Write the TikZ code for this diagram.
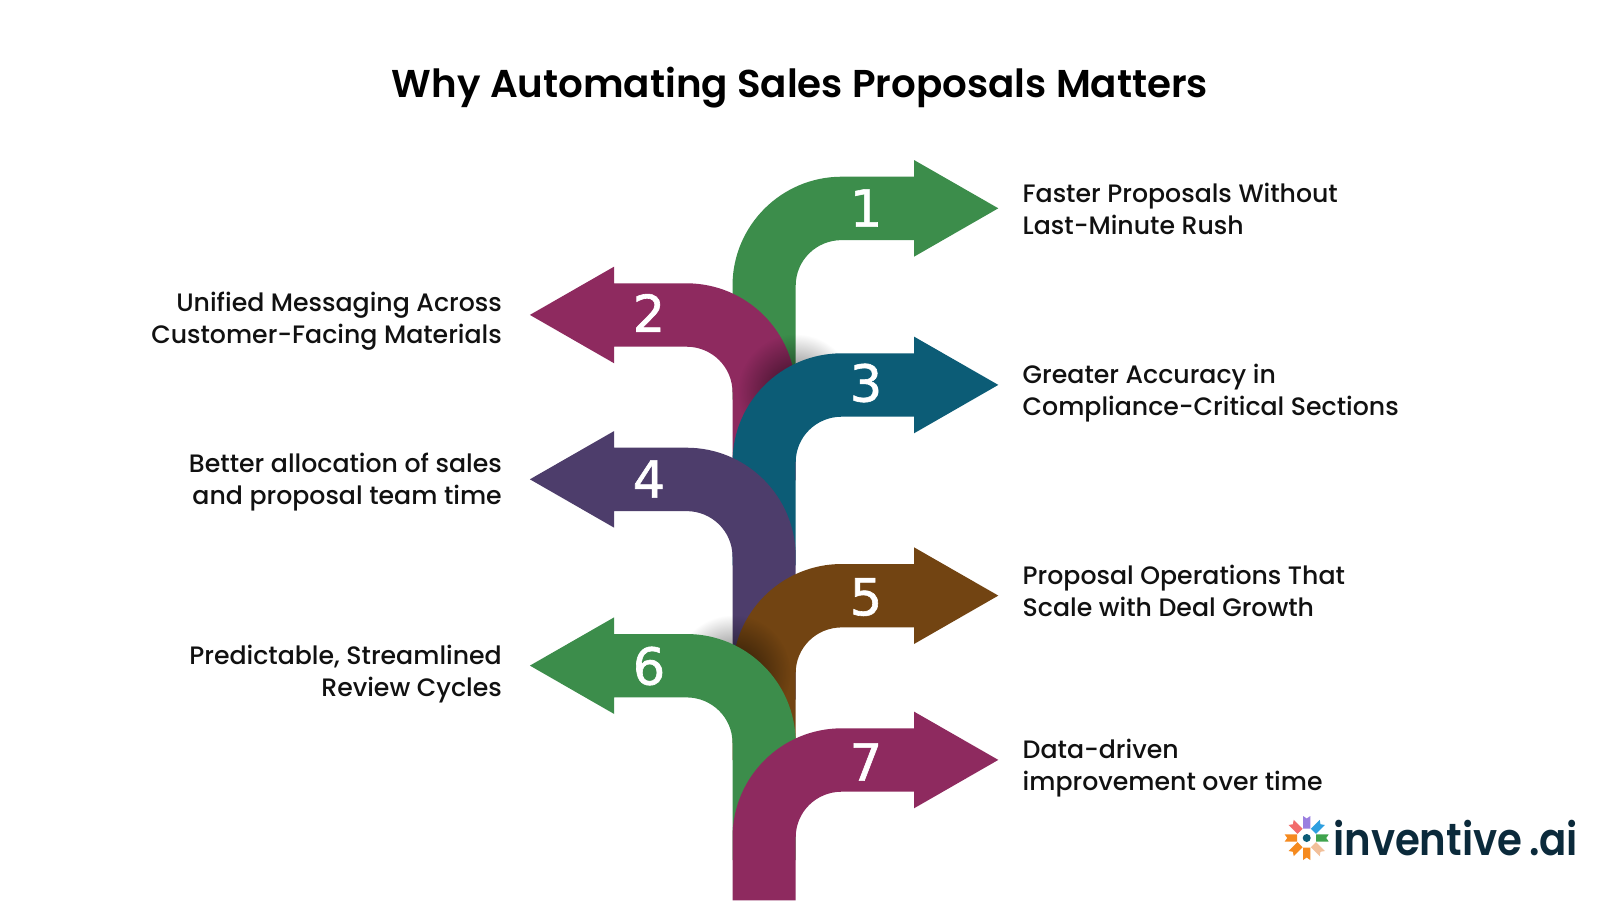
\documentclass[tikz,border=0pt]{standalone}
\usepackage{fontspec}
\setmainfont{Poppins}[UprightFont=* Medium]
\newfontfamily\titlefont{Poppins}[UprightFont=* SemiBold]
\newfontfamily\numfont{DejaVu Sans}[FakeBold=1.2]
\newfontfamily\logofont{Poppins}[UprightFont=* SemiBold]
\usetikzlibrary{fadings}
\definecolor{cgreen}{HTML}{3C8D4B}
\definecolor{cmag}{HTML}{8E2A5F}
\definecolor{cteal}{HTML}{0C5C76}
\definecolor{cpurple}{HTML}{4D3D6B}
\definecolor{cbrown}{HTML}{724412}
\definecolor{cink}{HTML}{111111}
\definecolor{cnavy}{HTML}{0B2A3B}
\tikzfading[name=blobfade, inner color=transparent!35, outer color=transparent!100]
\tikzset{
  bandnum/.style={text=white,font=\numfont\fontsize{51}{51}\selectfont,inner sep=0pt,anchor=center},
  lab/.style={text=cink,font=\fontsize{25.2}{32.5}\selectfont,inner sep=0pt},
  labr/.style={lab,align=left,anchor=west},
  labl/.style={lab,align=right,anchor=east},
}
\newcommand{\bentarrow}[4]{% top y, direction, stem length, colour
  \begin{scope}[shift={(764.1,#1)},xscale=#2]
  \fill[#4] (-31.6,#3) -- (-31.6,109) .. controls (-31.6,48.8) and (17.4,0) .. (77.6,0)
    -- (149.9,0) -- (149.9,-16.7) -- (234.2,31.6) -- (149.9,80) -- (149.9,63.4) -- (77.6,63.4)
    .. controls (52.2,63.4) and (31.6,83.6) .. (31.6,109) -- (31.6,#3) -- cycle;
  \end{scope}}
\newcommand{\softblob}[2]{\fill[black,path fading=blobfade] (#1,#2) circle (58);}
\begin{document}
\begin{tikzpicture}[x=1pt,y=-1pt]
\useasboundingbox (0,0) rectangle (1600,900);
\fill[white] (0,0) rectangle (1600,900);
\node[font=\titlefont\fontsize{38.8}{40}\selectfont,text=black,inner sep=0pt] (title) at (800,88) {Why Automating Sales Proposals Matters};
\bentarrow{176.7}{1}{223}{cgreen}
\bentarrow{283.3}{-1}{197}{cmag}
\begin{scope}
  \clip (640,300) rectangle (795.7,500) (795.7,300) rectangle (900,400);
  \softblob{795.7}{392}
\end{scope}
\bentarrow{353.3}{1}{212}{cteal}
\bentarrow{447.7}{-1}{252}{cpurple}
\bentarrow{564}{1}{196}{cbrown}
\begin{scope}
  \clip (640,600) rectangle (732.5,690) (732.5,600) rectangle (900,780);
  \softblob{732.5}{673}
\end{scope}
\bentarrow{634}{-1}{226}{cgreen}
\bentarrow{728.3}{1}{172}{cmag}
\node[bandnum] (n1) at (866,208) {1};
\node[bandnum] (n2) at (649,313) {2};
\node[bandnum] (n3) at (866,383) {3};
\node[bandnum] (n4) at (649,479) {4};
\node[bandnum] (n5) at (866,597) {5};
\node[bandnum] (n6) at (649,666) {6};
\node[bandnum] (n7) at (866,762) {7};
\node[labr] (l1) at (1022.5,209) {Faster Proposals Without\\Last-Minute Rush};
\node[labl] (l2) at (502,321) {Unified Messaging Across\\Customer-Facing Materials};
\node[labr] (l3) at (1022.5,393) {Greater Accuracy in\\Compliance-Critical Sections};
\node[labl] (l4) at (502,482) {Better allocation of sales\\and proposal team time};
\node[labr] (l5) at (1022.5,591) {Proposal Operations That\\Scale with Deal Growth};
\node[labl] (l6) at (502,674) {Predictable, Streamlined\\Review Cycles};
\node[labr] (l7) at (1022.5,768) {Data-driven\\improvement over time};
% logo
\begin{scope}[shift={(1306.7,838)}]
\foreach \ang/\col in {0/9B7FE0,45/2E9FE0,90/3FA34D,135/F2C09A,180/F58A1F,225/F58A1F,270/F58A1F,315/F26B6B}{
  \definecolor{rib}{HTML}{\col}
  \fill[rib,rotate=-\ang] (-3.6,-9.5) -- (3.6,-9.5) -- (3.6,-22) -- (0,-19.5) -- (-3.6,-22) -- cycle;
}
\fill[cteal] (0,0) circle (4);
\end{scope}
\node[font=\logofont\fontsize{45}{45}\selectfont,text=cnavy,inner sep=0pt,anchor=base west,xscale=.895] (logo) at (1333,855) {inventive\,.ai};
\end{tikzpicture}
\end{document}
